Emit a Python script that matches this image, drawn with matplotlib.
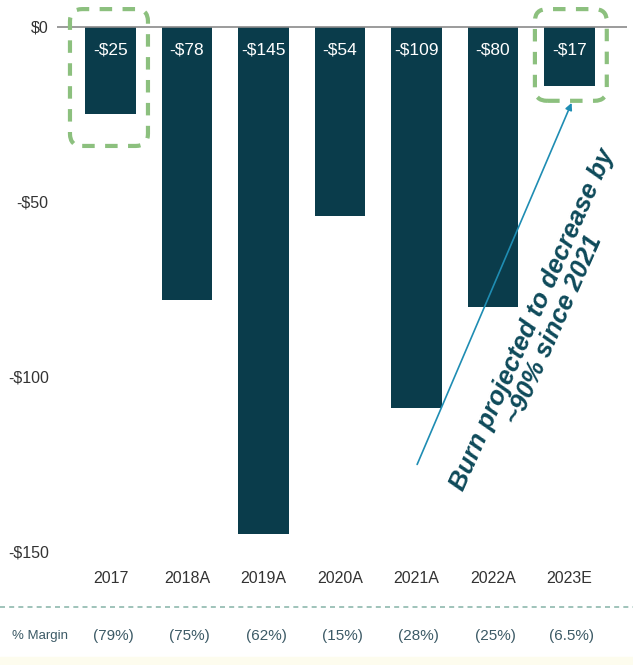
import numpy as np
import matplotlib.pyplot as plt
from matplotlib.patches import FancyBboxPatch, Rectangle

years = ['2017', '2018A', '2019A', '2020A', '2021A', '2022A', '2023E']
burn = [-25, -78, -145, -54, -109, -80, -17]
margins = ['(79%)', '(75%)', '(62%)', '(15%)', '(28%)', '(25%)', '(6.5%)']
yticks = [0, -50, -100, -150]
note = ['Burn projected to decrease by', '~90% since 2021']

sans = ['Liberation Sans', 'DejaVu Sans']
bar_color = '#0a3c4b'
green = '#8cc07e'

fig = plt.figure(figsize=(6.33, 6.65), dpi=100)
ax = fig.add_axes([0.09, 0.17, 0.90, 0.83])

x = list(range(len(years)))
ax.bar(x, burn, width=0.66, color=bar_color, zorder=2)
ax.axhline(0, color='#8a8a8a', lw=1.2, zorder=3)

for xi, v in zip(x, burn):
    ax.text(xi, -6.5, f'-${abs(v)}', color='white', ha='center', va='center',
            fontsize=12.5, family=sans, zorder=4)

ax.set_xlim(-0.7, 6.75)
ax.set_ylim(-150, 7.7)
ax.set_xticks(x)
ax.set_xticklabels(years, family=sans, fontsize=11.5, color='#333333')
ax.set_yticks(yticks)
ax.set_yticklabels(['$0' if t == 0 else f'-${abs(t)}' for t in yticks],
                   family=sans, fontsize=11.5, color='#333333')
ax.tick_params(axis='x', length=0, pad=14)
ax.tick_params(axis='y', length=0, pad=6)
for s in ax.spines.values():
    s.set_visible(False)

# dashed highlight boxes around first and last bar
aspect = 76 / 3.5
boxes = [(-0.53, 0.49, -34, 5.1), (6 - 0.45, 6 + 0.49, -21.1, 5.1)]
for (x0, x1, y0, y1) in boxes:
    p = FancyBboxPatch((x0, y0), x1 - x0, y1 - y0,
                       boxstyle='round,pad=0,rounding_size=0.16',
                       mutation_aspect=aspect, fill=False, ec=green,
                       lw=3, ls=(0, (3, 2.5)), zorder=5, clip_on=False)
    ax.add_patch(p)

# trend arrow and note
ax.annotate('', xy=(6.03, -21.7), xytext=(4.01, -125),
            arrowprops=dict(arrowstyle='-|>', color='#1f8db3', lw=1.2,
                            mutation_scale=10, shrinkA=0, shrinkB=0),
            zorder=6)
angle = 66
perp = np.array([np.sin(np.radians(angle)), -np.cos(np.radians(angle))])
for i, line in enumerate(note):
    off = perp * 17.5 * (i - 0.5)
    ax.annotate(line, xy=(5.66, -85), xytext=tuple(off), textcoords='offset points',
                rotation=angle, ha='center', va='center', rotation_mode='anchor',
                fontsize=18.5, fontweight='bold', fontstyle='italic',
                family=sans, color='#0e4a5a', zorder=6)

# margin row under the chart
fig.add_artist(plt.Line2D([0, 1], [1 - 607 / 665] * 2, transform=fig.transFigure,
                          color='#8fb9ae', lw=1.2, ls=(0, (3, 2.5))))
fig.text(12 / 633, 1 - 636 / 665, '% Margin', fontsize=9.5, family=sans,
         color='#3c5a66', va='center', ha='left')
for xi, m in zip(x, margins):
    xd = ax.transData.transform((xi, 0))[0]
    fig.text(xd / 633 + 0.004, 1 - 636 / 665, m, fontsize=11, family=sans,
             color='#3c5a66', va='center', ha='center')

fig.add_artist(Rectangle((0, 0), 1, 8 / 665, transform=fig.transFigure,
                         color='#fdfcee', zorder=-1))

fig.savefig('out.png', dpi=100)
